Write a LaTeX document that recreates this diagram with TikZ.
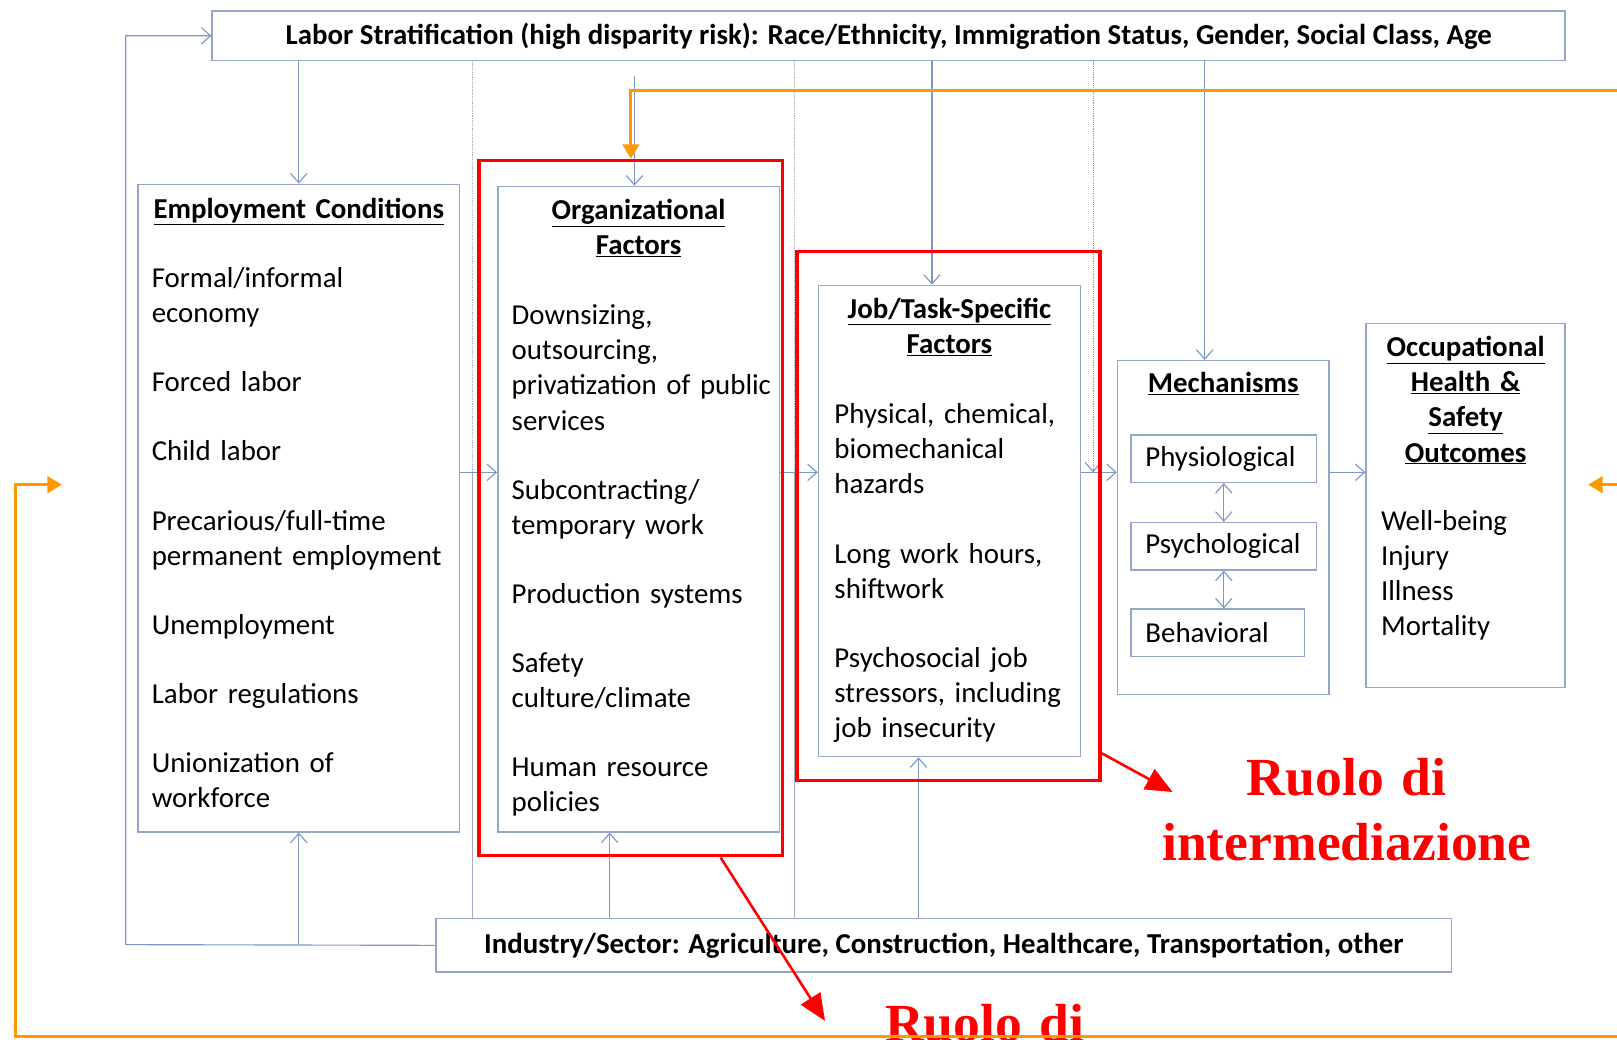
\documentclass[tikz,border=0pt]{standalone}
\usepackage{fontspec}
\setmainfont{Carlito}
\newfontfamily\ruolofont{Liberation Serif}
\usetikzlibrary{arrows.meta,calc,positioning}

\definecolor{boxblue}{RGB}{150,166,202}
\definecolor{arrblue}{RGB}{125,152,200}
\definecolor{linegray}{RGB}{165,172,192}
\definecolor{slidered}{RGB}{255,0,0}
\definecolor{slideorange}{RGB}{255,153,0}

\tikzset{
  box/.style={draw=boxblue, line width=1.4pt, fill=white, inner sep=0pt, anchor=north west},
  bar/.style={box, font=\fontsize{28}{34}\selectfont\bfseries},
  ttl/.style={anchor=base, align=center, inner sep=0pt, font=\fontsize{28}{34}\selectfont\bfseries},
  items/.style={anchor=base west, align=left, inner sep=0pt, font=\fontsize{28}{34}\selectfont},
  mech/.style={draw=boxblue, line width=1.4pt, anchor=north west, align=left, inner xsep=14pt,
    inner ysep=0pt, minimum height=46, font=\fontsize{28}{34}\selectfont},
  arr/.style={draw=arrblue, line width=1.1pt, -{Straight Barb[length=9pt,width=16pt]}},
  dblarr/.style={arr, {Straight Barb[length=9pt,width=16pt]}-{Straight Barb[length=9pt,width=16pt]}},
  solidline/.style={draw=linegray, line width=1.1pt},
  dotline/.style={draw=linegray, line width=1.1pt, densely dotted},
  redbox/.style={draw=slidered, line width=3.5pt, inner sep=0pt, anchor=north west},
  redarr/.style={draw=slidered, line width=2.5pt, -{Triangle[length=26pt,width=22pt]}},
  oarr/.style={draw=slideorange, line width=3pt, -{Triangle[length=14pt,width=16pt]}},
  ruolo/.style={anchor=base, align=center, text=slidered, inner sep=0pt, text width=420,
    font=\fontsize{52}{63}\selectfont\ruolofont\bfseries},
}

\newcommand{\ul}[1]{\underline{#1}}

\begin{document}
\begin{tikzpicture}[x=1pt, y=-1pt]
  \useasboundingbox (0,0) rectangle (1568,1008);

  % bars
  \node[bar, minimum width=1312, minimum height=48] (strat) at (205,10)
    {Labor Stratification (high disparity risk): Race/Ethnicity, Immigration Status, Gender, Social Class, Age};
  \node[bar, minimum width=985, minimum height=52] (ind) at (422,890)
    {Industry/Sector: Agriculture, Construction, Healthcare, Transportation, other};

  % boxes
  \node[box, minimum width=312, minimum height=628] (emp) at (133,178) {};
  \node[box, minimum width=273, minimum height=626] (org) at (482,180) {};
  \node[box, minimum width=254, minimum height=457] (job) at (793,276) {};
  \node[box, minimum width=205, minimum height=324] (mechs) at (1083,349) {};
  \node[box, minimum width=193, minimum height=353] (outc) at (1324,313) {};

  % texts
  \node[ttl, text width=312] (empT) at ($(emp.north)+(0,34)$) {\ul{Employment Conditions}};
  \node[items, text width=295] (empI) at ($(emp.north west)+(14,101)$)
    {Formal/informal\\economy\\[33pt]Forced labor\\[33pt]Child labor\\[33pt]%
     Precarious/full-time\\permanent employment\\[33pt]Unemployment\\[33pt]%
     Labor regulations\\[33pt]Unionization of\\workforce};
  \node[ttl, text width=273] (orgT) at ($(org.north)+(0,33)$) {\ul{Organizational}\\\ul{Factors}};
  \node[items, text width=255] (orgI) at ($(org.north west)+(14,135)$)
    {Downsizing,\\outsourcing,\\privatization of public\\services\\[33pt]%
     Subcontracting/\\temporary work\\[33pt]Production systems\\[33pt]%
     Safety\\culture/climate\\[33pt]Human resource\\policies};
  \node[ttl, text width=254] (jobT) at ($(job.north)+(0,33)$) {\ul{Job/Task-Specific}\\\ul{Factors}};
  \node[items, text width=235] (jobI) at ($(job.north west)+(16,135)$)
    {Physical, chemical,\\biomechanical\\hazards\\[33pt]Long work hours,\\shiftwork\\[33pt]%
     Psychosocial job\\stressors, including\\job insecurity};
  \node[ttl, text width=205] (mechT) at ($(mechs.north)+(0,32)$) {\ul{Mechanisms}};
  \node[mech, text width=152] (phys) at (1096,421) {Physiological};
  \node[mech, text width=152] (psych) at (1096,506) {Psychological};
  \node[mech, text width=140] (behav) at (1096,590) {Behavioral};
  \node[ttl, text width=193] (outcT) at ($(outc.north)+(0,33)$) {\ul{Occupational}\\\ul{Health \&}\\\ul{Safety}\\\ul{Outcomes}};
  \node[items, text width=175] (outcI) at ($(outc.north west)+(15,201)$)
    {Well-being\\Injury\\Illness\\Mortality};

  % connectors from the stratification bar
  \coordinate (orgTop) at ($(org.north)+(-4,0)$);
  \coordinate (jobTop) at ($(job.north)+(-17,0)$);
  \coordinate (mechTop) at ($(mechs.north)+(-18,0)$);
  \draw[arr] (strat.south -| emp.north) -- (emp.north);
  \draw[arr] ($(strat.south -| orgTop)+(0,14)$) -- (orgTop);
  \draw[arr] (strat.south -| jobTop) -- (jobTop);
  \draw[arr] (strat.south -| mechTop) -- (mechTop);

  % row of arrows
  \coordinate (gapA) at (458,458);
  \coordinate (gapB) at (770,458);
  \coordinate (gapC) at (1060,458);
  \draw[dotline] (strat.south -| gapA) -- (gapA);
  \draw[solidline] (ind.north -| gapA) -- (gapA);
  \draw[dotline] (strat.south -| gapB) -- (gapB);
  \draw[solidline] (ind.north -| gapB) -- (gapB);
  \draw[dotline, arr] (strat.south -| gapC) -- (gapC);
  \draw[arr] (emp.east |- gapA) -- (org.west |- gapA);
  \draw[arr] (org.east |- gapB) -- (job.west |- gapB);
  \draw[arr] (job.east |- gapC) -- (mechs.west |- gapC);
  \draw[arr] (mechs.east |- gapC) -- (outc.west |- gapC);
  \draw[dblarr] (phys.south) -- (psych.north);
  \draw[dblarr] (psych.south) -- (psych.south |- behav.north);

  % connectors from the industry bar
  \coordinate (fbk) at (122,916);
  \coordinate (orgBot) at ($(org.south)+(-28,0)$);
  \coordinate (jobBot) at ($(job.south)+(-30,0)$);
  \draw[arr] (ind.west) -- (fbk) |- (strat.west);
  \draw[arr] (ind.west -| emp.south) -- (emp.south);
  \draw[arr] (ind.north -| orgBot) -- (orgBot);
  \draw[arr] (ind.north -| jobBot) -- (jobBot);

  % slide highlights
  \node[redbox, minimum width=294, minimum height=674] (orgR) at (463,154) {};
  \node[redbox, minimum width=294, minimum height=513] (jobR) at (771,242) {};
  \coordinate (ruoloA) at (800,990);
  \coordinate (ruoloB) at (1137,768);
  \draw[redarr] ($(orgR.south)+(87,0)$) -- (ruoloA);
  \draw[redarr] ($(jobR.south east)+(0,-28)$) -- (ruoloB);
  \node[ruolo] (ruoloBT) at (1306,771) {Ruolo di\\intermediazione};
  \node[ruolo] (ruoloAT) at (955,1010) {Ruolo di};

  \coordinate (oTop) at (1568,88);
  \coordinate (oBR) at (1568,1005);
  \coordinate (oBL) at (15,1005);
  \coordinate (oL) at (60,470);
  \coordinate (oR) at (1568,470);
  \coordinate (oRtip) at (1540,470);
  \draw[oarr] (oTop) -| (orgR.north);
  \draw[oarr] (oBR) -- (oBL) |- (oL);
  \draw[oarr] (oR) -- (oRtip);
\end{tikzpicture}
\end{document}
